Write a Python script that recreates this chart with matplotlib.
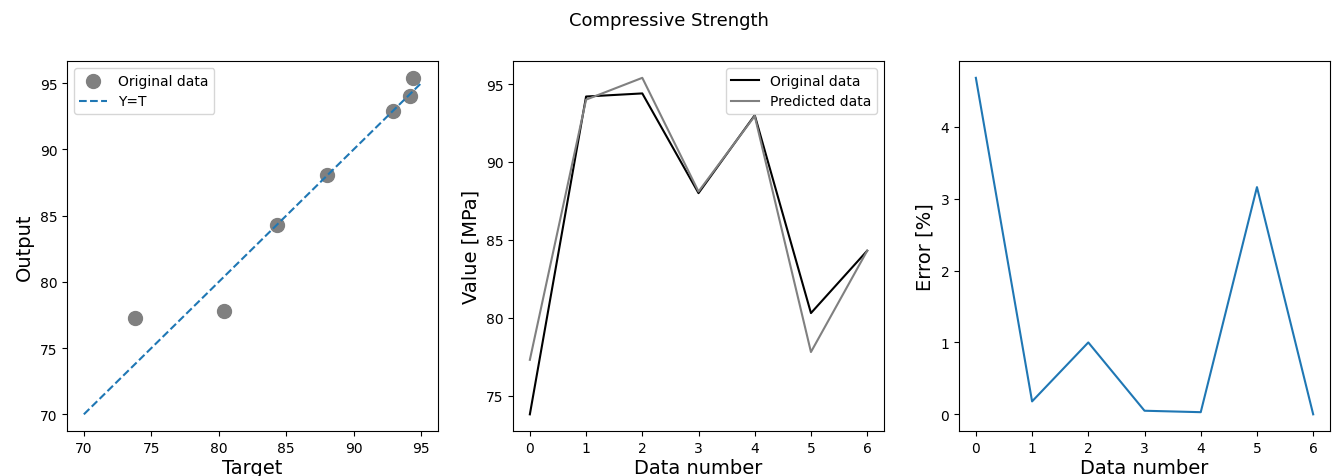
import matplotlib
matplotlib.use("Agg")
import matplotlib.pyplot as plt
import numpy as np

# values
data_number = [0, 1, 2, 3, 4, 5, 6]
target = [73.8, 94.2, 94.4, 88.0, 93.0, 80.3, 84.3]
predicted = [77.3, 94.0, 95.4, 88.1, 92.95, 77.8, 84.3]
scatter_x = [73.8, 80.4, 84.3, 88.0, 92.9, 94.2, 94.4]
scatter_y = [77.3, 77.8, 84.3, 88.1, 92.9, 94.0, 95.4]
line_xy = [70, 95]
error_pct = [4.68, 0.18, 1.0, 0.05, 0.03, 3.16, 0.0]

fig, (ax1, ax2, ax3) = plt.subplots(1, 3, figsize=(13.37, 4.77), dpi=100)
fig.subplots_adjust(left=0.0501, right=0.9948, bottom=0.094, top=0.870, wspace=0.202)
fig.suptitle("Compressive Strength", fontsize=13, y=0.975)

# regression plot
ax1.scatter(scatter_x, scatter_y, s=100, color="grey", label="Original data")
ax1.plot(line_xy, line_xy, "--", color="tab:blue", label="Y=T")
ax1.set_xlabel("Target", fontsize=14, labelpad=2)
ax1.set_ylabel("Output", fontsize=14)
ax1.legend(loc="upper left", fontsize=10)

# original vs predicted
ax2.plot(data_number, target, color="black", lw=1.5, label="Original data")
ax2.plot(data_number, predicted, color="grey", lw=1.5, label="Predicted data")
ax2.set_xlabel("Data number", fontsize=14, labelpad=2)
ax2.set_ylabel("Value [MPa]", fontsize=14)
ax2.legend(loc="upper right", fontsize=10)

# error
ax3.plot(data_number, error_pct, color="tab:blue", lw=1.5)
ax3.set_xlabel("Data number", fontsize=14, labelpad=2)
ax3.set_ylabel("Error [%]", fontsize=14)

for ax in (ax1, ax2, ax3):
    ax.tick_params(labelsize=10)

fig.savefig("out.png", dpi=100)
